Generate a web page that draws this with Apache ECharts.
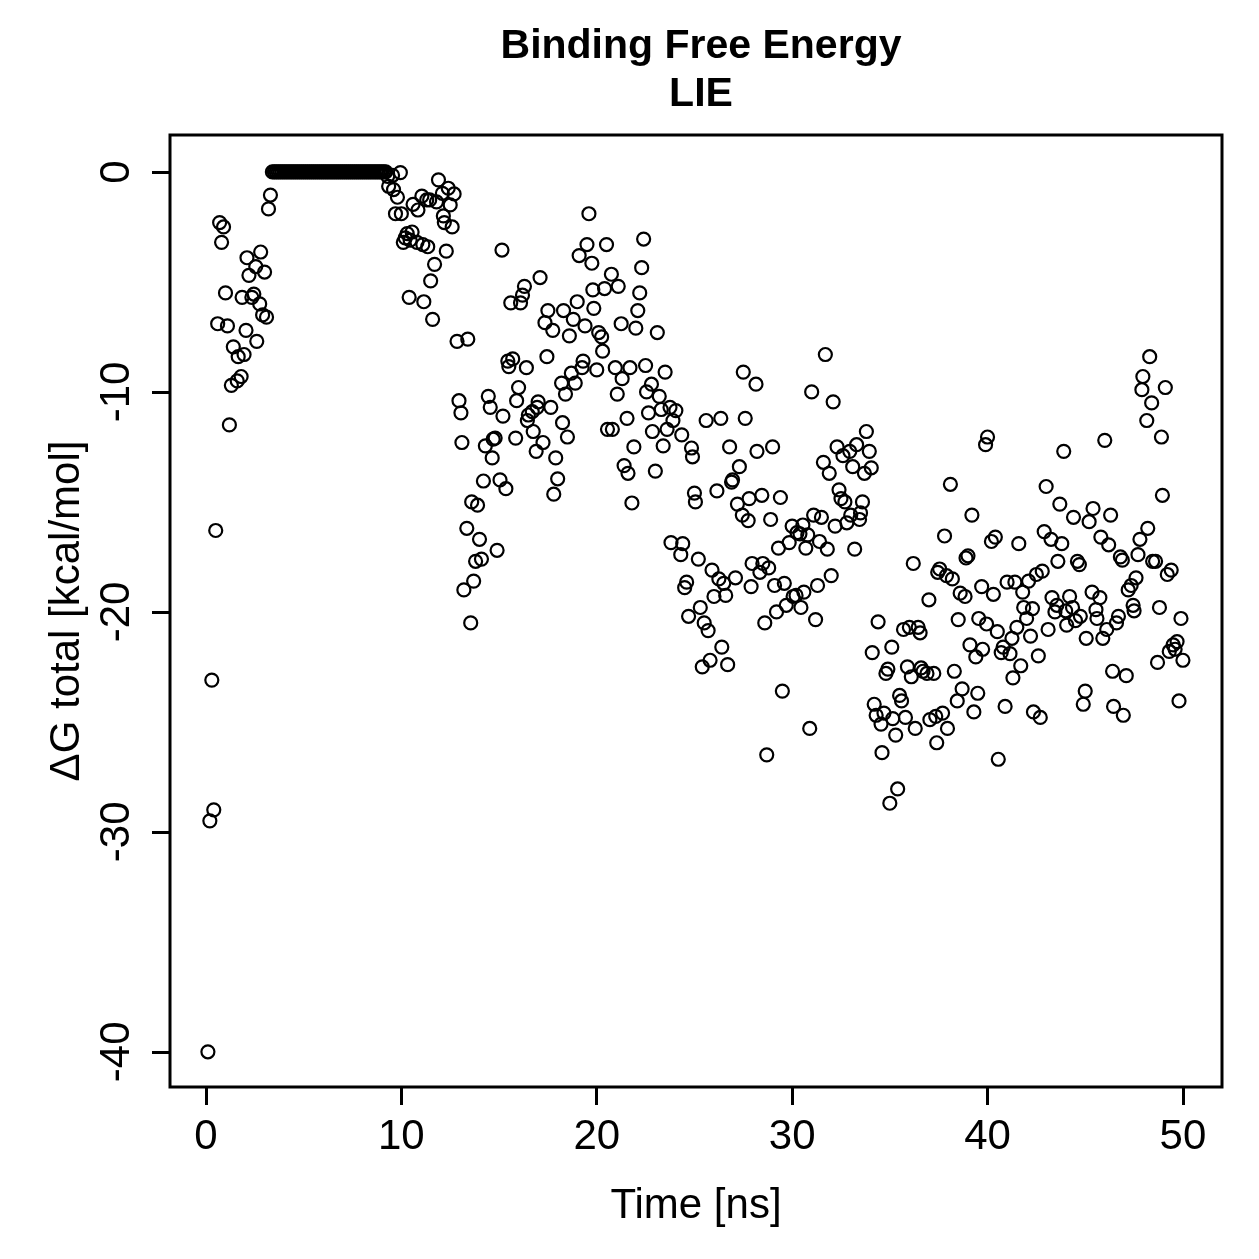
<!DOCTYPE html>
<html>
<head>
<meta charset="utf-8">
<title>Binding Free Energy LIE</title>
<script src="https://cdn.jsdelivr.net/npm/echarts@6/dist/echarts.min.js"></script>
<style>
  html, body { margin: 0; padding: 0; background: #fff; }
  #chart { width: 1259px; height: 1259px; }
</style>
</head>
<body>
<div id="chart"></div>
<script>
// time [ns] and total binding free energy [kcal/mol]
var timeNs = [
  0.1, 0.2, 0.3, 0.4, 0.5, 0.6, 0.7, 0.8, 0.9, 1.0, 1.1, 1.2, 1.3, 1.4, 1.6, 1.65, 1.8, 1.85, 1.95, 2.05,
  2.1, 2.2, 2.35, 2.45, 2.55, 2.6, 2.75, 2.8, 2.9, 3.0, 3.1, 3.2, 3.3,
  3.4, 3.5, 3.6, 3.7, 3.8, 3.9, 4.0, 4.1, 4.2, 4.3, 4.4, 4.5, 4.6, 4.7, 4.8, 4.9, 5.0, 5.1, 5.2, 5.3,
  5.4, 5.5, 5.6, 5.7, 5.8, 5.9, 6.0, 6.1, 6.2, 6.3, 6.4, 6.5, 6.6, 6.7, 6.8, 6.9, 7.0, 7.1, 7.2, 7.3,
  7.4, 7.5, 7.6, 7.7, 7.8, 7.9, 8.0, 8.1, 8.2, 8.3, 8.4, 8.5, 8.6, 8.7, 8.8, 8.9, 9.0, 9.1, 9.2,
  9.3, 9.35, 9.55, 9.6, 9.7, 9.8, 9.95, 10.0, 10.1, 10.2, 10.3, 10.4, 10.45, 10.55, 10.6, 10.8, 10.85,
  11.05, 11.1, 11.15, 11.3, 11.35, 11.45, 11.5, 11.6, 11.7, 11.8, 11.9, 12.1, 12.15, 12.2, 12.3, 12.4,
  12.5, 12.6, 12.7, 12.85, 12.95, 13.05, 13.1, 13.2, 13.35, 13.4, 13.55, 13.6, 13.7, 13.8, 13.9, 14.0,
  14.1, 14.2, 14.3, 14.45, 14.55, 14.65, 14.7, 14.8, 14.9, 15.05, 15.15, 15.2, 15.35, 15.45, 15.5, 15.6,
  15.7, 15.85, 15.9, 16.0, 16.1, 16.2, 16.3, 16.4, 16.45, 16.5, 16.7, 16.75, 16.9, 16.95, 17.0, 17.1,
  17.25, 17.35, 17.45, 17.5, 17.65, 17.75, 17.8, 17.9, 18.0, 18.2, 18.25, 18.3, 18.4, 18.5, 18.6, 18.7,
  18.8, 18.9, 19.0, 19.1, 19.25, 19.3, 19.4, 19.5, 19.6, 19.75, 19.8, 19.85, 20.0, 20.1, 20.25, 20.3,
  20.4, 20.5, 20.55, 20.75, 20.8, 20.95, 21.05, 21.1, 21.25, 21.3, 21.4, 21.55, 21.6, 21.7, 21.8, 21.9,
  22.0, 22.1, 22.2, 22.3, 22.4, 22.5, 22.55, 22.65, 22.8, 22.85, 23.0, 23.1, 23.2, 23.3, 23.4, 23.5,
  23.6, 23.75, 23.8, 23.9, 24.05, 24.3, 24.35, 24.4, 24.5, 24.6, 24.7, 24.85, 24.9, 25.0, 25.05, 25.2,
  25.3, 25.4, 25.5, 25.6, 25.7, 25.8, 25.9, 26.0, 26.15, 26.25, 26.35, 26.4, 26.5, 26.6, 26.7, 26.8,
  26.9, 26.95, 27.1, 27.2, 27.3, 27.45, 27.5, 27.6, 27.75, 27.8, 27.9, 27.95, 28.15, 28.2, 28.35, 28.45,
  28.5, 28.6, 28.7, 28.8, 28.9, 29.0, 29.1, 29.2, 29.3, 29.4, 29.5, 29.6, 29.7, 29.85, 30.0, 30.05,
  30.2, 30.25, 30.4, 30.45, 30.55, 30.6, 30.7, 30.8, 30.9, 31.0, 31.1, 31.2, 31.3, 31.4, 31.5, 31.6,
  31.7, 31.8, 31.9, 32.0, 32.1, 32.2, 32.3, 32.4, 32.5, 32.6, 32.7, 32.8, 32.95, 33.0, 33.1, 33.2,
  33.3, 33.45, 33.5, 33.6, 33.7, 33.8, 33.95, 34.05, 34.1, 34.2, 34.3, 34.4, 34.55, 34.6, 34.7, 34.8,
  34.9, 35.0, 35.1, 35.15, 35.3, 35.4, 35.5, 35.6, 35.7, 35.8, 35.9, 36.0, 36.1, 36.2, 36.3, 36.45,
  36.55, 36.6, 36.7, 36.9, 37.0, 37.05, 37.25, 37.35, 37.4, 37.45, 37.55, 37.7, 37.8, 37.9, 37.95, 38.1,
  38.2, 38.3, 38.45, 38.5, 38.6, 38.7, 38.85, 38.9, 39.0, 39.1, 39.2, 39.3, 39.4, 39.5, 39.55, 39.7,
  39.75, 39.9, 39.95, 40.0, 40.2, 40.3, 40.4, 40.5, 40.55, 40.7, 40.8, 40.9, 41.0, 41.15, 41.25, 41.3,
  41.4, 41.5, 41.6, 41.7, 41.8, 41.85, 42.0, 42.1, 42.2, 42.3, 42.35, 42.5, 42.6, 42.7, 42.8, 42.9,
  43.0, 43.1, 43.25, 43.3, 43.45, 43.55, 43.6, 43.7, 43.8, 43.9, 44.0, 44.05, 44.2, 44.35, 44.4, 44.5,
  44.6, 44.7, 44.75, 44.9, 45.0, 45.05, 45.2, 45.35, 45.4, 45.55, 45.6, 45.75, 45.8, 45.9, 46.0, 46.1,
  46.2, 46.3, 46.4, 46.45, 46.6, 46.7, 46.8, 46.9, 46.95, 47.1, 47.2, 47.35, 47.45, 47.5, 47.6, 47.7,
  47.8, 47.9, 47.95, 48.15, 48.2, 48.3, 48.4, 48.45, 48.6, 48.7, 48.8, 48.9, 48.95, 49.1, 49.2, 49.3,
  49.4, 49.5, 49.6, 49.7, 49.8, 49.9, 50.0
];
var dGtotal = [
  -40.0, -29.5, -23.1, -29.0, -16.3, -6.9, -2.3, -3.2, -2.5, -5.5, -7.0, -11.5, -9.7, -7.95, -9.5, -8.4, -9.3, -5.7, -8.3, -7.2,
  -3.9, -4.7, -5.7, -5.55, -4.3, -7.7, -6.0, -3.64, -6.5, -4.55, -6.6, -1.68, -1.05,
  0, 0, 0, 0, 0, 0, 0, 0, 0, 0, 0, 0, 0, 0, 0, 0, 0, 0, 0, 0,
  0, 0, 0, 0, 0, 0, 0, 0, 0, 0, 0, 0, 0, 0, 0, 0, 0, 0, 0, 0,
  0, 0, 0, 0, 0, 0, 0, 0, 0, 0, 0, 0, 0, 0, 0, 0, 0, 0, 0,
  -0.2, -0.65, -0.15, -0.8, -1.9, -1.15, -0.03, -1.9, -3.2, -3.0, -2.8, -5.7, -3.1, -2.73, -1.47, -3.2, -1.73,
  -1.1, -3.3, -5.9, -1.27, -3.4, -1.27, -4.95, -6.7, -4.2, -1.36, -0.36, -0.97, -2.0, -2.3, -3.6, -0.74,
  -1.5, -2.5, -1.0, -7.7, -10.4, -10.95, -12.3, -19.0, -16.2, -7.6, -20.5, -15.0, -18.6, -17.7, -15.15, -16.7,
  -17.6, -14.05, -12.45, -10.2, -10.7, -13.0, -12.15, -12.1, -17.2, -14.0, -3.55, -11.1, -14.4, -8.6, -8.85, -5.95,
  -8.5, -12.1, -10.4, -9.8, -5.95, -5.6, -5.2, -8.9, -11.3, -11.05, -10.9, -11.8, -12.7, -10.7, -10.45, -4.8,
  -12.3, -6.85, -8.4, -6.3, -10.7, -7.2, -14.65, -13.0, -13.95, -9.6, -11.4, -6.3, -10.1, -12.05, -7.45, -9.15,
  -6.7, -9.6, -5.9, -3.8, -8.9, -8.6, -7.0, -3.3, -1.9, -4.15, -5.36, -6.2, -9.0, -7.3, -7.5, -8.15,
  -5.3, -3.3, -11.7, -4.65, -11.7, -8.9, -10.1, -5.2, -6.9, -9.4, -13.35, -11.2, -13.7, -8.9, -15.05, -12.5,
  -7.1, -6.3, -5.5, -4.35, -3.05, -8.8, -10.0, -10.95, -9.65, -11.8, -13.6, -7.3, -10.2, -10.8, -12.45, -9.1,
  -11.7, -10.7, -16.85, -11.3, -10.85, -17.4, -11.95, -16.9, -18.9, -18.65, -20.2, -12.55, -12.95, -14.6, -15.0, -17.6,
  -19.8, -22.5, -20.5, -11.3, -20.85, -22.2, -18.1, -19.3, -14.5, -18.5, -11.2, -21.6, -18.7, -19.25, -22.4, -12.5,
  -14.1, -14.0, -18.45, -15.1, -13.4, -15.6, -9.1, -11.2, -15.85, -14.85, -18.85, -17.8, -9.65, -12.7, -18.2, -14.7,
  -17.8, -20.5, -26.5, -18.0, -15.8, -12.5, -18.8, -20.0, -17.1, -14.8, -23.6, -18.7, -19.7, -16.85, -16.1, -19.3,
  -19.25, -16.4, -16.45, -19.8, -16.05, -19.1, -17.1, -16.5, -25.3, -10.0, -15.6, -20.35, -18.8, -16.8, -15.7, -13.2,
  -8.3, -17.15, -13.7, -18.35, -10.45, -16.1, -12.5, -14.45, -14.85, -12.9, -15.0, -15.95, -12.7, -15.6, -13.4, -17.15,
  -12.4, -15.8, -15.5, -15.0, -13.7, -11.8, -12.7, -13.45, -21.85, -24.2, -24.7, -20.45, -25.1, -26.4, -24.6, -22.8,
  -22.6, -28.7, -21.6, -24.85, -25.6, -28.05, -23.8, -24.05, -20.8, -24.8, -22.5, -20.7, -22.95, -17.8, -25.3, -20.7,
  -20.95, -22.55, -22.7, -22.8, -19.45, -24.9, -22.8, -24.75, -25.95, -18.2, -18.05, -24.6, -16.55, -18.35, -25.3, -14.2,
  -18.5, -22.7, -24.05, -20.35, -19.15, -23.5, -19.3, -17.55, -17.45, -21.5, -15.6, -24.55, -22.05, -23.7, -20.3, -18.85,
  -21.7, -12.4, -20.55, -12.05, -16.8, -19.2, -16.6, -20.9, -26.7, -21.85, -21.6, -24.3, -18.65, -21.9, -21.2, -23.0,
  -18.65, -20.7, -16.9, -22.45, -19.1, -19.8, -20.3, -18.6, -21.1, -19.85, -24.55, -18.3, -22.0, -24.8, -18.15, -16.35,
  -14.3, -20.8, -16.7, -19.35, -20.0, -19.7, -17.7, -15.1, -16.9, -12.7, -19.95, -20.6, -19.3, -19.8, -15.7, -20.4,
  -17.7, -17.85, -20.2, -24.2, -23.6, -21.2, -15.9, -19.1, -15.3, -19.9, -20.3, -19.35, -16.6, -21.2, -12.2, -20.8,
  -16.95, -15.6, -22.7, -24.3, -20.5, -20.2, -17.5, -17.65, -24.7, -22.9, -19.0, -18.8, -19.7, -19.95, -18.45, -17.4,
  -16.7, -9.9, -9.3, -11.3, -16.2, -8.4, -10.5, -17.7, -17.7, -22.3, -19.8, -12.05, -14.7, -9.8, -18.3, -21.8,
  -18.1, -21.5, -21.7, -21.35, -24.05, -20.3, -22.2
];
var xTicks = [0, 10, 20, 30, 40, 50];
var yTicks = [-40, -30, -20, -10, 0];

(function(){
    var myChart = echarts.init(document.getElementById('chart'), null, { renderer: 'canvas' });
    var pts = timeNs.map(function(t, i){ return [t, dGtotal[i]]; });
    var font = 'Liberation Sans, Arial, Helvetica, sans-serif';

    var option = {
        backgroundColor: '#fff',
        animation: false,
        title: {
            text: 'Binding Free Energy\nLIE',
            left: 696,
            top: 18,
            textAlign: 'center',
            textStyle: {
                fontFamily: font,
                fontWeight: 'bold',
                fontSize: 41,
                lineHeight: 48,
                color: '#000'
            }
        },
        grid: {
            left: 170, top: 135, right: 37, bottom: 172,
            show: true,
            borderColor: '#000',
            borderWidth: 3,
            backgroundColor: 'transparent'
        },
        xAxis: {
            type: 'value',
            min: -1.84,
            max: 52.0,
            name: 'Time [ns]',
            nameLocation: 'middle',
            nameGap: 98,
            nameTextStyle: { fontFamily: font, fontSize: 42, color: '#000' },
            axisLine: { show: false, onZero: false },
            splitLine: { show: false },
            axisTick: {
                show: true, inside: false, length: 18,
                customValues: xTicks,
                lineStyle: { color: '#000', width: 3 }
            },
            axisLabel: {
                customValues: xTicks,
                margin: 29,
                fontFamily: font, fontSize: 42, color: '#000'
            }
        },
        yAxis: {
            type: 'value',
            min: -41.6,
            max: 1.68,
            name: 'ΔG total [kcal/mol]',
            nameLocation: 'middle',
            nameGap: 73,
            nameRotate: 90,
            nameTextStyle: { fontFamily: font, fontSize: 42, color: '#000' },
            axisLine: { show: false, onZero: false },
            splitLine: { show: false },
            axisTick: {
                show: true, inside: false, length: 18,
                customValues: yTicks,
                lineStyle: { color: '#000', width: 3 }
            },
            axisLabel: {
                customValues: yTicks,
                rotate: 90,
                margin: 53,
                align: 'center',
                verticalAlign: 'middle',
                fontFamily: font, fontSize: 42, color: '#000'
            }
        },
        series: [{
            name: 'ΔG total',
            type: 'scatter',
            data: pts,
            symbol: 'circle',
            symbolSize: 13,
            itemStyle: {
                color: 'rgba(0,0,0,0)',
                borderColor: '#000',
                borderWidth: 2.2,
                opacity: 1
            },
            emphasis: { disabled: true }
        }]
    };
    myChart.setOption(option);
})();
</script>
</body>
</html>
